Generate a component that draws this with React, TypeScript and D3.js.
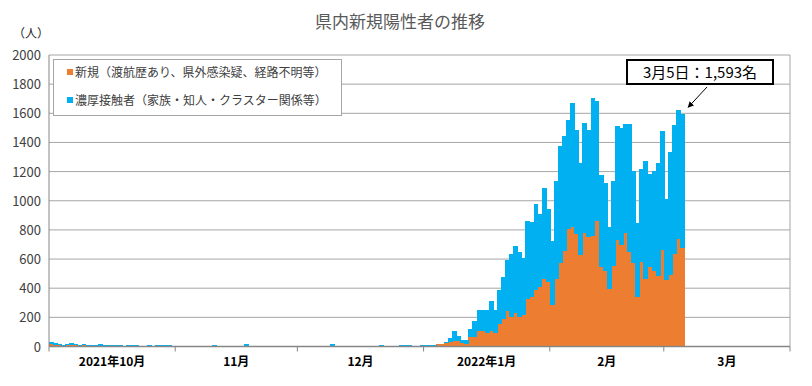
import React, { useEffect, useRef } from 'react';
import * as d3 from 'd3';

// daily new positives, split by route (Oct 1 2021 - Mar 5 2022)
const octNew = [18, 12, 8, 6, 8, 10, 8, 5, 8, 6, 4, 4, 6, 5, 5, 4, 4, 3, 3, 5, 3, 3, 2, 0, 2, 2, 3, 3, 4, 5, 3];
const octContact = [15, 10, 6, 6, 6, 12, 10, 7, 10, 5, 3, 4, 8, 8, 8, 6, 6, 4, 3, 6, 4, 4, 3, 0, 6, 4, 6, 6, 3, 2, 2];
const novNew = [5, 5, 4, 5, 1, 4, 5, 4, 0, 2, 1, 4, 5, 4, 1, 4, 5, 2, 0, 4, 5, 4, 0, 5, 5, 4, 5, 0, 0, 0];
const novContact = [1, 1, 1, 0, 5, 0, 1, 0, 0, 5, 5, 1, 0, 1, 5, 1, 0, 12, 0, 1, 0, 1, 0, 0, 0, 1, 0, 0, 0, 0];
const decNew = [0, 0, 0, 0, 0, 0, 5, 5, 2, 1, 1, 0, 3, 3, 0, 3, 4, 3, 3, 0, 4, 3, 3, 0, 4, 5, 4, 4, 3, 3, 4];
const decContact = [0, 0, 0, 0, 0, 0, 1, 1, 12, 5, 5, 0, 3, 3, 0, 3, 2, 3, 3, 0, 3, 3, 3, 0, 2, 2, 3, 3, 3, 3, 6];
const janNew = [6, 6, 5, 14, 14, 23, 30, 37, 37, 25, 16, 62, 62, 105, 105, 91, 105, 91, 157, 190, 244, 205, 233, 205, 219, 329, 342, 390, 406, 460, 441];
const janContact = [4, 4, 5, 2, 2, 11, 25, 66, 38, 23, 32, 61, 116, 142, 148, 162, 210, 162, 233, 289, 352, 432, 459, 446, 391, 534, 514, 589, 500, 630, 504];
const febNew = [288, 466, 571, 655, 806, 822, 774, 630, 781, 753, 760, 863, 548, 518, 397, 555, 733, 699, 779, 651, 571, 342, 582, 466, 548, 521, 486, 664];
const febContact = [438, 671, 806, 790, 749, 849, 712, 630, 753, 733, 945, 822, 630, 605, 420, 582, 781, 803, 748, 876, 634, 507, 637, 808, 637, 684, 774, 815];
const marNew = [459, 493, 637, 740, 678];
const marContact = [550, 843, 884, 883, 915];

const yTicks = [0, 200, 400, 600, 800, 1000, 1200, 1400, 1600, 1800, 2000];
const monthLabels = ['2021年10月', '11月', '12月', '2022年1月', '2月', '3月'];
const legendLabels = ['新規（渡航歴あり、県外感染疑、経路不明等）', '濃厚接触者（家族・知人・クラスター関係等）'];
const calloutText = '3月5日：1,593名';

const ORANGE = '#ED7D31';
const BLUE = '#00B0F0';
const FONT = '"Noto Sans CJK JP", "Noto Sans", sans-serif';

export default function App() {
  const ref = useRef<SVGSVGElement>(null);

  useEffect(() => {
    const svg = d3.select(ref.current);
    svg.selectAll('*').remove();

    const newCases = [...octNew, ...novNew, ...decNew, ...janNew, ...febNew, ...marNew];
    const contacts = [...octContact, ...novContact, ...decContact, ...janContact, ...febContact, ...marContact];
    const start = new Date(2021, 9, 1);
    const days = d3.timeDay.range(start, new Date(2022, 3, 1));
    const data = newCases.map((n, i) => ({ day: days[i], n, c: contacts[i] }));

    const left = 49, right = 790, top = 55, bottom = 346.5;
    const x = d3.scaleBand<Date>().domain(days).range([left, right]).padding(0);
    const y = d3.scaleLinear().domain([0, 2000]).range([bottom, top]);

    // title
    svg.append('text').attr('x', 400).attr('y', 28).attr('text-anchor', 'middle')
      .attr('font-size', 17).attr('fill', '#595959').attr('font-family', FONT).text('県内新規陽性者の推移');
    svg.append('text').attr('x', 13).attr('y', 38).attr('font-size', 12).attr('fill', '#222')
      .attr('font-family', FONT).text('（人）');

    // grid
    const g = svg.append('g');
    g.selectAll('line.grid').data(yTicks.slice(1)).enter().append('line')
      .attr('x1', left).attr('x2', right).attr('y1', d => y(d)).attr('y2', d => y(d))
      .attr('stroke', '#A6A6A6').attr('stroke-width', 1);
    g.append('line').attr('x1', right).attr('x2', right).attr('y1', top).attr('y2', bottom)
      .attr('stroke', '#A6A6A6');

    g.selectAll('text.ylab').data(yTicks).enter().append('text')
      .attr('x', 41).attr('y', d => y(d) + 5).attr('text-anchor', 'end')
      .attr('font-size', 13).attr('fill', '#404040').attr('font-family', FONT)
      .text(d => d);

    // bars (slightly widened + crisp so neighbouring days don't show seams)
    const bw = x.bandwidth() + 0.8;
    const bars = g.append('g').attr('shape-rendering', 'crispEdges');
    bars.selectAll('rect.new').data(data).enter().append('rect')
      .attr('x', d => x(d.day)!).attr('width', bw)
      .attr('y', d => y(d.n)).attr('height', d => bottom - y(d.n))
      .attr('fill', ORANGE);
    bars.selectAll('rect.con').data(data).enter().append('rect')
      .attr('x', d => x(d.day)!).attr('width', bw)
      .attr('y', d => y(d.n + d.c)).attr('height', d => y(d.n) - y(d.n + d.c))
      .attr('fill', BLUE);

    // axes
    g.append('line').attr('x1', left).attr('x2', left).attr('y1', top).attr('y2', bottom)
      .attr('stroke', '#868686');
    g.append('line').attr('x1', left).attr('x2', right).attr('y1', bottom).attr('y2', bottom)
      .attr('stroke', '#868686').attr('stroke-width', 1.5);

    const monthStarts = d3.timeMonth.range(start, new Date(2022, 3, 1));
    const tickXs = [...monthStarts.map(m => x(m)!), right];
    g.selectAll('line.tick').data(tickXs).enter().append('line')
      .attr('x1', d => d).attr('x2', d => d).attr('y1', bottom).attr('y2', bottom + 5)
      .attr('stroke', '#868686');
    g.selectAll('text.mlab').data(monthStarts).enter().append('text')
      .attr('x', (d, i) => (tickXs[i] + tickXs[i + 1]) / 2).attr('y', 366)
      .attr('text-anchor', 'middle').attr('font-size', 12).attr('font-weight', 'bold')
      .attr('fill', '#000').attr('font-family', FONT)
      .text((d, i) => monthLabels[i]);

    // legend
    const lg = svg.append('g');
    lg.append('rect').attr('x', 53.5).attr('y', 59.5).attr('width', 288).attr('height', 56)
      .attr('fill', '#fff').attr('stroke', '#A6A6A6');
    [ORANGE, BLUE].forEach((col, i) => {
      lg.append('rect').attr('x', 67).attr('y', 69 + i * 28).attr('width', 6).attr('height', 6).attr('fill', col);
      lg.append('text').attr('x', 75).attr('y', 77 + i * 28).attr('font-size', 12)
        .attr('fill', '#404040').attr('font-family', FONT).text(legendLabels[i]);
    });

    // callout
    const last = data[data.length - 1];
    const bx = x(last.day)! + x.bandwidth();
    const by = y(last.n + last.c);
    svg.append('defs').append('marker').attr('id', 'arr').attr('viewBox', '0 0 10 10')
      .attr('refX', 9).attr('refY', 5).attr('markerWidth', 6).attr('markerHeight', 6)
      .attr('orient', 'auto').append('path').attr('d', 'M0,0L10,5L0,10z').attr('fill', '#000');
    svg.append('line').attr('x1', 707).attr('y1', 87).attr('x2', bx + 4).attr('y2', by - 7)
      .attr('stroke', '#000').attr('stroke-width', 1).attr('marker-end', 'url(#arr)');
    svg.append('rect').attr('x', 627).attr('y', 60).attr('width', 146).attr('height', 24)
      .attr('fill', '#fff').attr('stroke', '#000').attr('stroke-width', 2);
    svg.append('text').attr('x', 700).attr('y', 78).attr('text-anchor', 'middle')
      .attr('font-size', 15).attr('fill', '#000').attr('font-family', FONT).text(calloutText);
  }, []);

  return <svg ref={ref} width={812} height={386} style={{ display: 'block', margin: '-8px' }} />;
}
